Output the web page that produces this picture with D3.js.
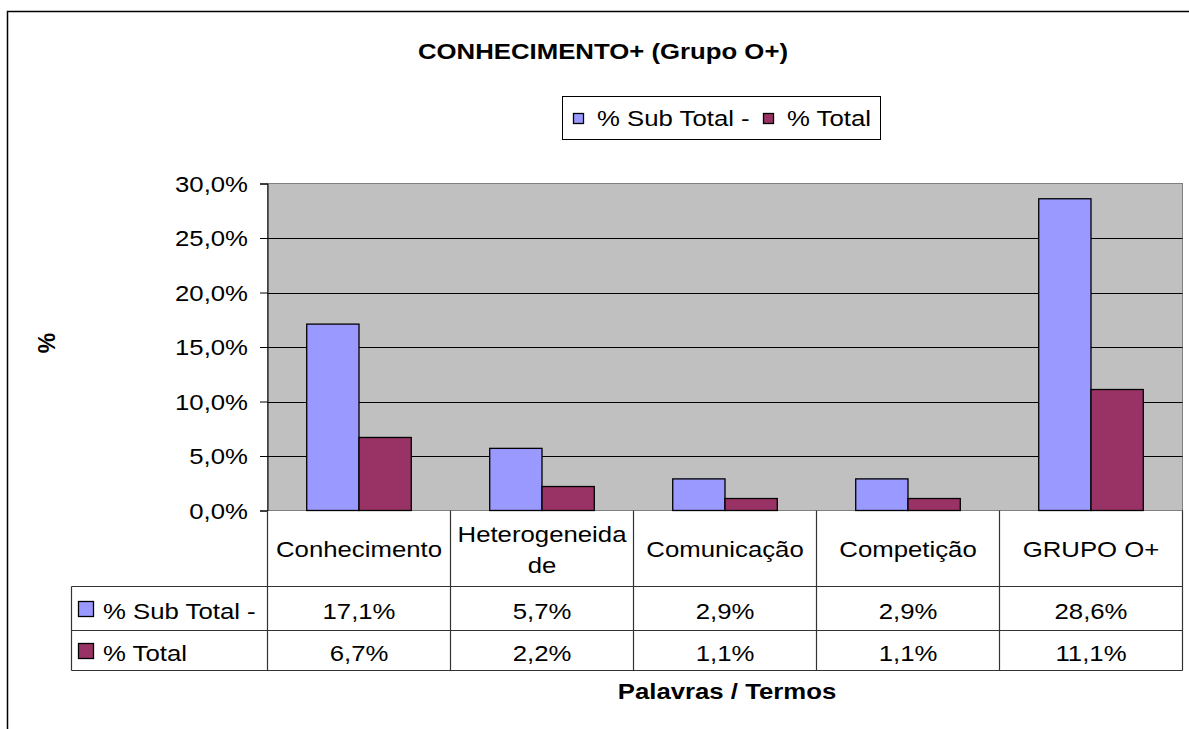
<!DOCTYPE html>
<html lang="pt">
  <head>
    <meta charset="UTF-8" />
    <title>CONHECIMENTO+ (Grupo O+)</title>
    <style>
      body { margin: 0; background: #fff; }
      text { font-family: "Liberation Sans", Arial, sans-serif; font-size: 23px; fill: #000; }
      .bold { font-weight: bold; }
      .grid line { stroke: #000; stroke-width: 1px; }
      .tbl { stroke: #333; stroke-width: 1.2px; fill: none; }
    </style>
  </head>
  <body>
    <script src="https://cdn.jsdelivr.net/npm/d3@7"></script>
    <script>

      // Data...
      var categories = ["Conhecimento", "Heterogeneidade", "Comunicação", "Competição", "GRUPO O+"];
      var categoryLines = [["Conhecimento"], ["Heterogeneida", "de"], ["Comunicação"], ["Competição"], ["GRUPO O+"]];
      var seriesNames = ["% Sub Total -", "% Total"];
      var subTotal = [17.1, 5.7, 2.9, 2.9, 28.6];
      var total = [6.7, 2.2, 1.1, 1.1, 11.1];
      var yTicks = [0, 5, 10, 15, 20, 25, 30];
      var colors = ["#9999FF", "#993366"];

      var values = [subTotal, total];
      var fmt = function(v) { return v.toFixed(1).replace(".", ",") + "%"; };

      var w = 1189, h = 729;
      var plot = { left: 267.5, right: 1182.5, top: 183.5, bottom: 510.5 };
      var tableLeft = 71.5, row1 = 586.5, row2 = 630.5, row3 = 670.5;

      // The original text is a little wider than Arial, stretch it
      var SX = 1.12;
      function place(sel, x, y) {
        return sel.attr("transform", "translate(" + x + "," + y + ") scale(" + SX + ",1)");
      }

      var svg = d3.select("body").append("svg")
        .attr("width", w)
        .attr("height", h);

      // Outer chart border (runs past the window on right and bottom)
      svg.append("rect")
        .attr("x", 7.5).attr("y", 11.5)
        .attr("width", 1400).attr("height", 1000)
        .attr("fill", "none").attr("stroke", "#000").attr("stroke-width", 1.5);

      // Scales...
      var x0 = d3.scaleBand()
        .domain(categories)
        .range([plot.left, plot.right])
        .padding(0);

      var x1 = d3.scaleBand()
        .domain([0, 1])
        .range([0, x0.bandwidth()])
        .paddingInner(0)
        .paddingOuter(0.75);

      var y = d3.scaleLinear()
        .domain([0, 30])
        .range([plot.bottom, plot.top]);

      // Plot area
      svg.append("rect")
        .attr("x", plot.left).attr("y", plot.top)
        .attr("width", plot.right - plot.left)
        .attr("height", plot.bottom - plot.top)
        .attr("fill", "#C0C0C0")
        .attr("stroke", "#808080").attr("stroke-width", 1);

      // Gridlines
      svg.append("g").attr("class", "grid")
        .selectAll("line")
        .data(yTicks.filter(function(d) { return d > 0 && d < 30; }))
        .enter().append("line")
        .attr("x1", plot.left).attr("x2", plot.right)
        .attr("y1", function(d) { return Math.round(y(d)) + 0.5; })
        .attr("y2", function(d) { return Math.round(y(d)) + 0.5; });

      // Y axis (labels drawn by hand so they can be stretched)
      var yAxis = d3.axisLeft(y)
        .tickValues(yTicks)
        .tickSize(7.5)
        .tickFormat("");

      var yg = svg.append("g")
        .attr("transform", "translate(" + plot.left + ",0)")
        .call(yAxis);
      yg.select(".domain").attr("stroke", "#000");
      yg.selectAll(".tick line").attr("stroke", "#000");

      yTicks.forEach(function(t) {
        place(svg.append("text"), 248, y(t) + 8)
          .attr("text-anchor", "end")
          .text(fmt(t));
      });

      // Bars
      var groups = svg.append("g").selectAll("g")
        .data(categories)
        .enter().append("g")
        .attr("transform", function(d) { return "translate(" + x0(d) + ",0)"; });

      groups.selectAll("rect")
        .data(function(d, i) { return [0, 1].map(function(s) { return { s: s, v: values[s][i] }; }); })
        .enter().append("rect")
        .attr("x", function(d) { return x1(d.s); })
        .attr("y", function(d) { return y(d.v); })
        .attr("width", x1.bandwidth())
        .attr("height", function(d) { return y(0) - y(d.v); })
        .attr("fill", function(d) { return colors[d.s]; })
        .attr("stroke", "#000")
        .attr("stroke-width", 1.3);

      // Data table...
      var tbl = svg.append("g");

      [row1, row2, row3].forEach(function(r) {
        tbl.append("line").attr("class", "tbl")
          .attr("x1", tableLeft).attr("x2", plot.right).attr("y1", r).attr("y2", r);
      });

      tbl.append("line").attr("class", "tbl")
        .attr("x1", tableLeft).attr("x2", tableLeft).attr("y1", row1).attr("y2", row3);
      var edges = categories.map(function(c) { return x0(c); }).concat([plot.right]);
      tbl.selectAll("line.v")
        .data(edges)
        .enter().append("line")
        .attr("class", "tbl v")
        .attr("x1", function(d) { return d; }).attr("x2", function(d) { return d; })
        .attr("y1", plot.bottom).attr("y2", row3);

      // Category labels
      var headMid = (plot.bottom + row1) / 2;
      categories.forEach(function(c, i) {
        var lines = categoryLines[i];
        var cx = x0(c) + x0.bandwidth() / 2;
        lines.forEach(function(l, j) {
          var ly = headMid + 8.5 + (j - (lines.length - 1) / 2) * 31;
          place(tbl.append("text"), cx, ly)
            .attr("text-anchor", "middle")
            .text(l);
        });
      });

      // Series rows
      var rowMid = [(row1 + row2) / 2, (row2 + row3) / 2];
      seriesNames.forEach(function(name, s) {
        tbl.append("rect")
          .attr("x", 78.5).attr("y", rowMid[s] - 7)
          .attr("width", 15).attr("height", 15)
          .attr("fill", colors[s]).attr("stroke", "#000").attr("stroke-width", 1.3);
        place(tbl.append("text"), 103, rowMid[s] + 10.5)
          .text(name);
        values[s].forEach(function(v, i) {
          place(tbl.append("text"), x0(categories[i]) + x0.bandwidth() / 2, rowMid[s] + 10.5)
            .attr("text-anchor", "middle")
            .text(fmt(v));
        });
      });

      // Title
      place(svg.append("text"), 603, 59)
        .attr("class", "bold")
        .attr("text-anchor", "middle")
        .text("CONHECIMENTO+ (Grupo O+)");

      // Legend
      var legend = svg.append("g");
      legend.append("rect")
        .attr("x", 562.5).attr("y", 96.5)
        .attr("width", 318).attr("height", 43)
        .attr("fill", "#fff").attr("stroke", "#000").attr("stroke-width", 1);
      var legendX = [573, 763];
      seriesNames.forEach(function(name, s) {
        legend.append("rect")
          .attr("x", legendX[s] + 0.5).attr("y", 113.5)
          .attr("width", 10).attr("height", 10)
          .attr("fill", colors[s]).attr("stroke", "#000").attr("stroke-width", 1.3);
        place(legend.append("text"), legendX[s] + 24, 126)
          .text(name);
      });

      // Axis titles
      svg.append("text")
        .attr("class", "bold")
        .attr("transform", "translate(55,343) rotate(-90)")
        .attr("text-anchor", "middle")
        .text("%");

      place(svg.append("text"), 727, 699)
        .attr("class", "bold")
        .attr("text-anchor", "middle")
        .text("Palavras / Termos");

    </script>
  </body>
</html>
